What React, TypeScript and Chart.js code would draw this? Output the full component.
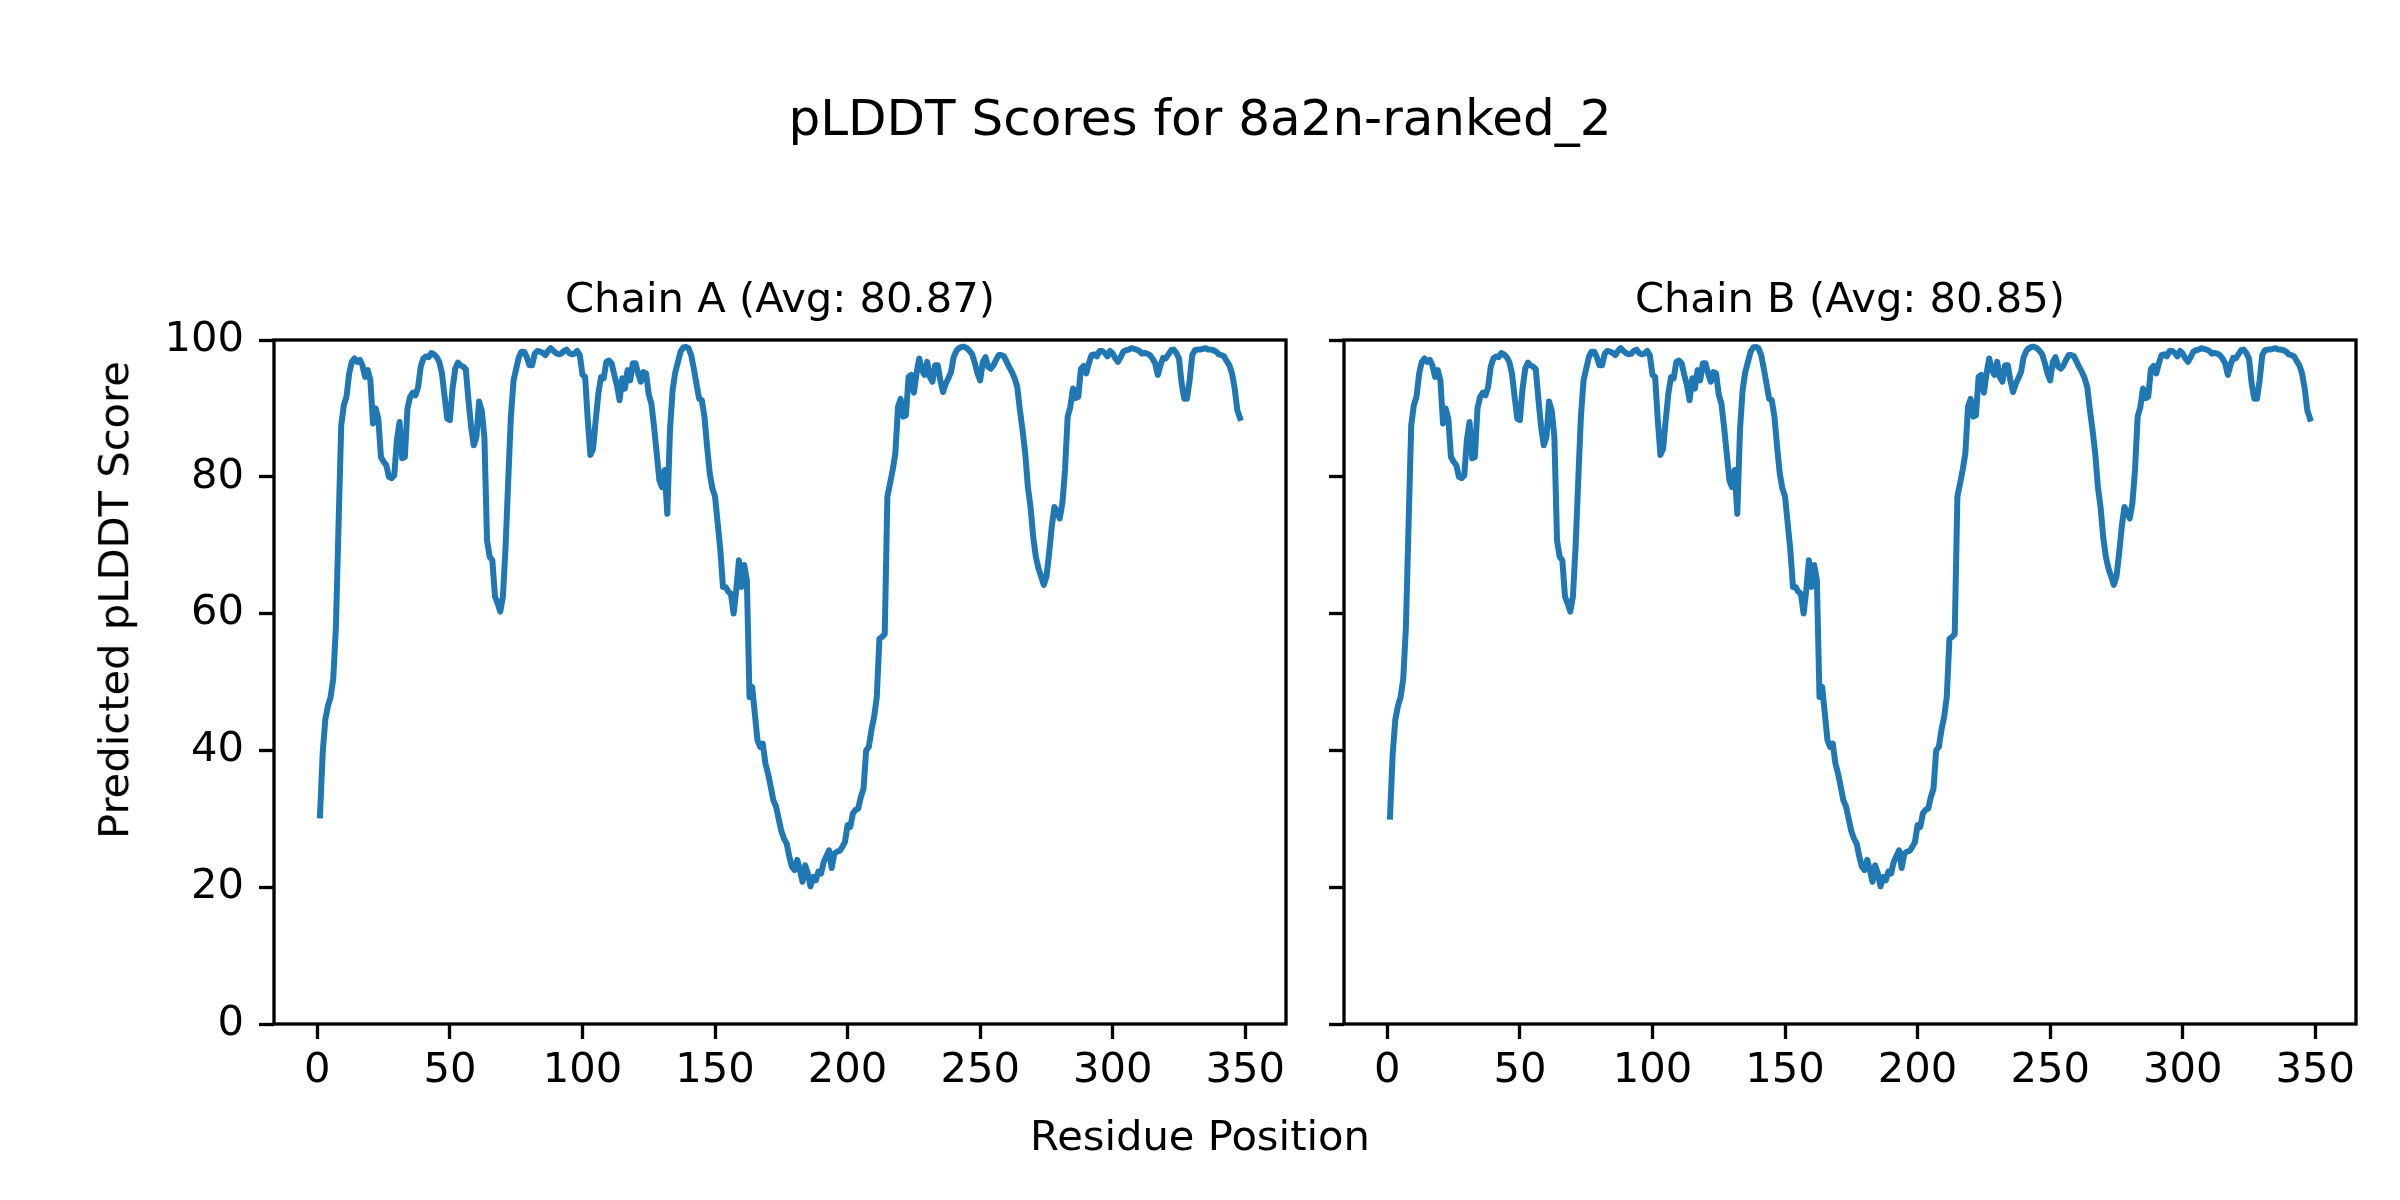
import React, { useEffect, useRef } from "react";
import { Chart, registerables } from "chart.js";

Chart.register(...registerables);

const FONT = "'DejaVu Sans', sans-serif";
const SUPTITLE = "pLDDT Scores for 8a2n-ranked_2";
const X_LABEL = "Residue Position";
const Y_LABEL = "Predicted pLDDT Score";
const CHAIN_TITLES = ["Chain A (Avg: 80.87)", "Chain B (Avg: 80.85)"];
const X_TICKS = [0, 50, 100, 150, 200, 250, 300, 350];
const Y_TICKS = [0, 20, 40, 60, 80, 100];
const X_MIN = -16.35;
const X_MAX = 365.35;
const LINE_COLOR = "#1f77b4";

// pLDDT per residue (residues 1..348)
const chainA = [
  30.5, 39.5, 44.5, 46.5, 47.8, 50.5, 58.0, 73.0, 87.5, 90.5,
  91.7, 95.1, 96.8, 97.3, 96.8, 97.1, 96.3, 94.6, 95.6, 94.1,
  87.8, 90.0, 88.5, 82.9, 82.2, 81.7, 80.0, 79.8, 80.2, 85.4,
  88.0, 82.7, 82.9, 90.0, 91.7, 92.3, 91.9, 93.1, 96.1, 97.3,
  97.6, 97.5, 98.1, 97.9, 97.5, 96.8, 95.1, 91.7, 88.5, 88.3,
  92.9, 95.8, 96.7, 96.3, 96.1, 95.7, 91.2, 87.3, 84.6, 85.8,
  91.0, 89.7, 85.8, 70.7, 68.3, 67.8, 62.5, 61.5, 60.3, 62.5,
  69.8, 79.5, 88.8, 94.1, 95.8, 97.5, 98.3, 98.3, 97.5, 96.3,
  96.3, 98.0, 98.4, 98.3, 98.1, 97.8, 98.4, 98.8, 98.4, 98.1,
  97.9, 98.0, 98.4, 98.6, 98.1, 97.9, 98.0, 98.4, 97.8, 94.9,
  94.6, 88.3, 83.2, 84.1, 88.3, 92.2, 94.6, 94.4, 96.8, 97.0,
  96.6, 94.9, 93.4, 91.2, 94.4, 92.9, 95.6, 94.1, 96.6, 96.6,
  95.1, 93.9, 95.3, 95.1, 92.0, 90.7, 87.3, 83.4, 79.5, 78.5,
  81.0, 74.6, 86.8, 92.7, 95.3, 96.8, 98.3, 98.9, 99.0, 98.8,
  97.8, 95.8, 93.6, 91.4, 91.2, 88.8, 84.4, 80.5, 78.3, 77.1,
  73.2, 69.3, 63.9, 63.9, 63.2, 62.9, 60.0, 63.4, 67.8, 63.9,
  67.1, 64.9, 47.8, 49.3, 45.4, 41.5, 40.5, 41.0, 38.1, 36.6,
  34.7, 32.7, 31.8, 30.0, 28.2, 27.1, 26.4, 24.5, 23.0, 22.5,
  24.0, 22.5, 20.8, 23.2, 22.0, 20.1, 21.5, 21.0, 22.3, 22.0,
  23.7, 24.5, 25.4, 22.8, 24.9, 25.2, 25.3, 25.9, 26.6, 29.1,
  28.8, 30.8, 31.3, 31.5, 33.2, 34.4, 40.0, 40.5, 43.0, 44.9,
  47.8, 56.3, 56.6, 57.0, 77.1, 79.0, 81.0, 83.4, 90.2, 91.4,
  88.8, 89.0, 94.6, 94.9, 92.3, 95.1, 97.3, 95.6, 94.9, 96.8,
  94.6, 93.9, 96.3, 96.3, 94.1, 92.4, 93.6, 94.4, 95.3, 97.5,
  98.4, 98.8, 99.0, 99.0, 98.8, 98.4, 97.9, 96.6, 95.1, 94.1,
  96.8, 97.5, 96.1, 95.8, 96.3, 97.1, 97.8, 97.8, 97.6, 96.8,
  96.0, 95.3, 94.4, 93.1, 89.7, 86.8, 83.4, 78.5, 75.6, 71.2,
  68.3, 66.6, 65.4, 64.2, 65.4, 68.8, 72.7, 75.6, 74.9, 73.9,
  76.1, 81.0, 88.8, 90.2, 92.9, 91.5, 91.7, 95.8, 96.2, 95.1,
  96.6, 97.8, 97.9, 97.6, 98.4, 98.4, 98.1, 97.6, 98.4, 98.0,
  97.3, 96.8, 97.5, 98.3, 98.5, 98.6, 98.8, 98.7, 98.6, 98.4,
  98.0, 98.1, 98.0, 97.8, 97.3, 96.6, 94.9, 96.3, 97.4, 97.3,
  97.9, 98.5, 98.6, 98.1, 97.3, 93.6, 91.4, 91.4, 94.1, 97.8,
  98.5, 98.6, 98.6, 98.7, 98.8, 98.6, 98.6, 98.5, 98.3, 97.9,
  97.8, 97.6, 96.9, 96.3, 95.1, 92.9, 89.7, 88.6,
];

const chainB = [
  30.3, 39.4, 44.5, 46.5, 47.8, 50.5, 58.0, 73.0, 87.5, 90.5,
  91.7, 95.1, 96.8, 97.3, 96.8, 97.1, 96.3, 94.6, 95.6, 94.1,
  87.8, 90.0, 88.5, 82.9, 82.2, 81.7, 80.0, 79.8, 80.2, 85.4,
  88.0, 82.7, 82.9, 90.0, 91.7, 92.3, 91.9, 93.1, 96.1, 97.3,
  97.6, 97.5, 98.1, 97.9, 97.5, 96.8, 95.1, 91.7, 88.5, 88.3,
  92.9, 95.8, 96.7, 96.3, 96.1, 95.7, 91.2, 87.3, 84.6, 85.8,
  91.0, 89.7, 85.8, 70.7, 68.3, 67.8, 62.5, 61.5, 60.3, 62.5,
  69.8, 79.5, 88.8, 94.1, 95.8, 97.5, 98.3, 98.3, 97.5, 96.3,
  96.3, 98.0, 98.4, 98.3, 98.1, 97.8, 98.4, 98.8, 98.4, 98.1,
  97.9, 98.0, 98.4, 98.6, 98.1, 97.9, 98.0, 98.4, 97.8, 94.9,
  94.6, 88.3, 83.2, 84.1, 88.3, 92.2, 94.6, 94.4, 96.8, 97.0,
  96.6, 94.9, 93.4, 91.2, 94.4, 92.9, 95.6, 94.1, 96.6, 96.6,
  95.1, 93.9, 95.3, 95.1, 92.0, 90.7, 87.3, 83.4, 79.5, 78.5,
  81.0, 74.6, 86.8, 92.7, 95.3, 96.8, 98.3, 98.9, 99.0, 98.8,
  97.8, 95.8, 93.6, 91.4, 91.2, 88.8, 84.4, 80.5, 78.3, 77.1,
  73.2, 69.3, 63.9, 63.9, 63.2, 62.9, 60.0, 63.4, 67.8, 63.9,
  67.1, 64.9, 47.8, 49.3, 45.4, 41.5, 40.5, 41.0, 38.1, 36.6,
  34.7, 32.7, 31.8, 30.0, 28.2, 27.1, 26.4, 24.5, 23.0, 22.5,
  24.0, 22.5, 20.8, 23.2, 22.0, 20.1, 21.5, 21.0, 22.3, 22.0,
  23.7, 24.5, 25.4, 22.8, 24.9, 25.2, 25.3, 25.9, 26.6, 29.1,
  28.8, 30.8, 31.3, 31.5, 33.2, 34.4, 40.0, 40.5, 43.0, 44.9,
  47.8, 56.3, 56.6, 57.0, 77.1, 79.0, 81.0, 83.4, 90.2, 91.4,
  88.8, 89.0, 94.6, 94.9, 92.3, 95.1, 97.3, 95.6, 94.9, 96.8,
  94.6, 93.9, 96.3, 96.3, 94.1, 92.4, 93.6, 94.4, 95.3, 97.5,
  98.4, 98.8, 99.0, 99.0, 98.8, 98.4, 97.9, 96.6, 95.1, 94.1,
  96.8, 97.5, 96.1, 95.8, 96.3, 97.1, 97.8, 97.8, 97.6, 96.8,
  96.0, 95.3, 94.4, 93.1, 89.7, 86.8, 83.4, 78.5, 75.6, 71.2,
  68.3, 66.6, 65.4, 64.2, 65.4, 68.8, 72.7, 75.6, 74.9, 73.9,
  76.1, 81.0, 88.8, 90.2, 92.9, 91.5, 91.7, 95.8, 96.2, 95.1,
  96.6, 97.8, 97.9, 97.6, 98.4, 98.4, 98.1, 97.6, 98.4, 98.0,
  97.3, 96.8, 97.5, 98.3, 98.5, 98.6, 98.8, 98.7, 98.6, 98.4,
  98.0, 98.1, 98.0, 97.8, 97.3, 96.6, 94.9, 96.3, 97.4, 97.3,
  97.9, 98.5, 98.6, 98.1, 97.3, 93.6, 91.4, 91.4, 94.1, 97.8,
  98.5, 98.6, 98.6, 98.7, 98.8, 98.6, 98.6, 98.5, 98.3, 97.9,
  97.8, 97.6, 96.9, 96.3, 95.1, 92.9, 89.7, 88.5,
];

const TICK_FONT = 41.67;
const SUPTITLE_FONT = 50;
const SPINE_W = 3.33;

const framePlugin = {
  id: "frame",
  afterDatasetsDraw(chart: any) {
    const { ctx, chartArea } = chart;
    const { left, top, right, bottom } = chartArea;
    ctx.save();
    ctx.strokeStyle = "#000";
    ctx.lineWidth = SPINE_W;
    ctx.strokeRect(left, top, right - left, bottom - top);
    ctx.restore();
  },
};

function makeChart(
  canvas: HTMLCanvasElement,
  values: number[],
  title: string,
  showYLabels: boolean,
  yWidth: number,
  padRight: number
) {
  const points = values.map((v, i) => ({ x: i + 1, y: v }));
  return new Chart(canvas, {
    type: "line",
    data: {
      datasets: [
        {
          data: points,
          borderColor: LINE_COLOR,
          backgroundColor: LINE_COLOR,
          borderWidth: 6,
          pointRadius: 0,
          tension: 0,
          fill: false,
          borderJoinStyle: "round",
          borderCapStyle: "square",
        },
      ],
    },
    options: {
      responsive: false,
      maintainAspectRatio: false,
      animation: false,
      devicePixelRatio: 1,
      layout: { padding: { top: 276, bottom: 86, left: 0, right: padRight } },
      plugins: {
        legend: { display: false },
        tooltip: { enabled: false },
        title: {
          display: true,
          text: title,
          fullSize: false,
          color: "#000",
          font: { family: FONT, size: TICK_FONT, weight: "normal" },
          padding: { top: 0, bottom: 14 },
        },
      },
      scales: {
        x: {
          type: "linear",
          min: X_MIN,
          max: X_MAX,
          afterBuildTicks: (s: any) => {
            s.ticks = X_TICKS.map((v) => ({ value: v }));
          },
          afterFit: (s: any) => {
            s.height = 90;
          },
          border: { display: false },
          grid: {
            drawOnChartArea: false,
            drawTicks: true,
            tickLength: 15,
            tickWidth: SPINE_W,
            tickColor: "#000",
          },
          ticks: {
            color: "#000",
            font: { family: FONT, size: TICK_FONT },
            padding: 7,
            maxRotation: 0,
            autoSkip: false,
            callback: (v: any) => String(v),
          },
        },
        y: {
          type: "linear",
          min: 0,
          max: 100,
          afterBuildTicks: (s: any) => {
            s.ticks = Y_TICKS.map((v) => ({ value: v }));
          },
          afterFit: (s: any) => {
            s.width = yWidth;
          },
          border: { display: false },
          grid: {
            drawOnChartArea: false,
            drawTicks: true,
            tickLength: 15,
            tickWidth: SPINE_W,
            tickColor: "#000",
          },
          ticks: {
            color: "#000",
            font: { family: FONT, size: TICK_FONT },
            padding: 15,
            autoSkip: false,
            callback: (v: any) => (showYLabels ? String(v) : ""),
          },
          title: { display: false },
        },
      },
    },
    plugins: [framePlugin],
  } as any);
}

export default function App() {
  const refA = useRef<HTMLCanvasElement>(null);
  const refB = useRef<HTMLCanvasElement>(null);

  useEffect(() => {
    document.body.style.margin = "0";
    document.body.style.background = "#fff";
    const a = makeChart(refA.current!, chainA, CHAIN_TITLES[0], true, 274, 24);
    const b = makeChart(refB.current!, chainB, CHAIN_TITLES[1], false, 34, 44);
    return () => {
      a.destroy();
      b.destroy();
    };
  }, []);

  return (
    <div
      style={{
        position: "relative",
        width: 2400,
        height: 1200,
        background: "#fff",
        fontFamily: FONT,
        color: "#000",
        overflow: "hidden",
      }}
    >
      <div
        style={{
          position: "absolute",
          left: 1200,
          top: 135 - 0.846 * SUPTITLE_FONT,
          transform: "translateX(-50%)",
          fontSize: SUPTITLE_FONT,
          lineHeight: 1,
          whiteSpace: "nowrap",
        }}
      >
        {SUPTITLE}
      </div>
      <canvas
        ref={refA}
        width={1310}
        height={1200}
        style={{ position: "absolute", left: 0, top: 0, width: 1310, height: 1200 }}
      />
      <canvas
        ref={refB}
        width={1090}
        height={1200}
        style={{ position: "absolute", left: 1310, top: 0, width: 1090, height: 1200 }}
      />
      <div
        style={{
          position: "absolute",
          left: 1200,
          top: 1150 - 0.846 * TICK_FONT,
          transform: "translateX(-50%)",
          fontSize: TICK_FONT,
          lineHeight: 1,
          whiteSpace: "nowrap",
        }}
      >
        {X_LABEL}
      </div>
      <div
        style={{
          position: "absolute",
          left: 113.6,
          top: 600,
          transform: "translate(-50%, -50%) rotate(-90deg)",
          fontSize: TICK_FONT,
          lineHeight: 1,
          whiteSpace: "nowrap",
        }}
      >
        {Y_LABEL}
      </div>
    </div>
  );
}
